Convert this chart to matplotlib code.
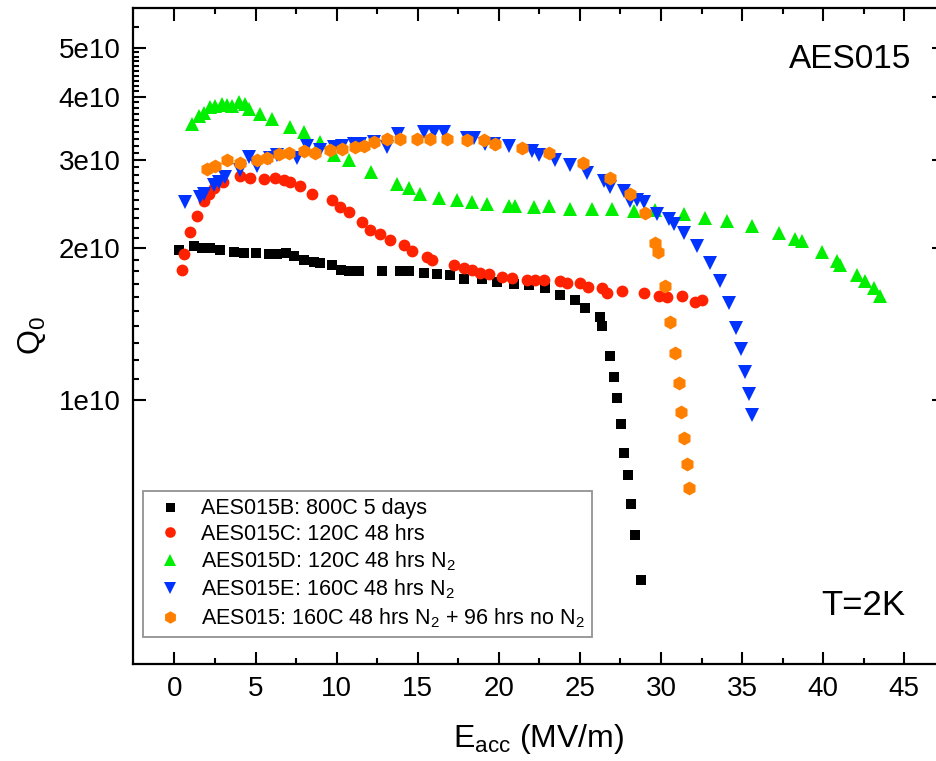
import numpy as np
import matplotlib
matplotlib.use("Agg")
import matplotlib.pyplot as plt
from matplotlib.ticker import FixedLocator, NullFormatter

plt.rcParams['font.family'] = ['Liberation Sans', 'DejaVu Sans']
plt.rcParams['mathtext.fontset'] = 'custom'
plt.rcParams['mathtext.rm'] = 'Liberation Sans'
plt.rcParams['mathtext.it'] = 'Liberation Sans:italic'
plt.rcParams['mathtext.bf'] = 'Liberation Sans:bold'

# Q0 values are in units of 1e10
eb_x = [0.27, 1.19, 1.71, 2.22, 2.84, 3.66, 4.28, 5.0, 5.82, 6.33, 6.85, 7.36, 7.98, 8.59, 9.0,
        9.72, 10.24, 10.75, 11.37, 12.8, 13.93, 14.45, 15.37, 16.2, 17.0, 17.84, 18.97, 19.89,
        20.92, 21.85, 22.87, 23.8, 24.7, 25.34, 26.26, 26.37, 26.84, 27.09, 27.31, 27.54, 27.72,
        27.95, 28.18, 28.4, 28.77]
qb = [1.99, 2.02, 2.00, 2.00, 1.99, 1.97, 1.96, 1.955, 1.95, 1.95, 1.96, 1.93, 1.90, 1.88, 1.87,
      1.85, 1.81, 1.80, 1.80, 1.80, 1.80, 1.80, 1.79, 1.78, 1.77, 1.74, 1.74, 1.715,
      1.70, 1.69, 1.67, 1.62, 1.58, 1.52, 1.46, 1.40, 1.225, 1.11, 1.01, 0.898, 0.787,
      0.711, 0.622, 0.539, 0.439]

ec_x = [0.47, 0.57, 0.99, 1.40, 1.80, 2.12, 2.42, 3.00, 4.07, 4.69, 5.51, 6.23, 6.74, 7.15, 7.77,
        8.49, 9.72, 10.23, 10.75, 11.57, 12.08, 12.70, 13.32, 14.14, 14.65, 15.58, 15.89, 17.22,
        17.84, 18.35, 18.87, 19.38, 20.20, 20.82, 21.74, 22.26, 22.77, 23.80, 24.21, 25.03,
        25.50, 26.37, 26.68, 27.60, 28.94, 29.86, 30.35, 31.30, 32.12, 32.53]
qc = [1.81, 1.95, 2.16, 2.32, 2.48, 2.57, 2.63, 2.71, 2.79, 2.76, 2.75, 2.76, 2.73, 2.71, 2.66,
      2.57, 2.49, 2.42, 2.36, 2.26, 2.18, 2.14, 2.08, 2.03, 1.98, 1.92, 1.90, 1.85,
      1.827, 1.81, 1.79, 1.78, 1.758, 1.745, 1.73, 1.73, 1.73, 1.72, 1.706, 1.706,
      1.68, 1.667, 1.63, 1.65, 1.63, 1.61, 1.60, 1.61, 1.569, 1.58]

ed_x = [1.09, 1.50, 1.81, 2.22, 2.53, 2.94, 3.25, 3.56, 3.97, 4.38, 4.58, 5.30, 6.02, 7.15, 7.97,
        9.00, 9.82, 10.75, 12.10, 13.73, 14.45, 15.17, 16.30, 17.40, 18.35, 19.28, 20.61, 21.02,
        22.15, 23.08, 24.41, 25.75, 26.98, 28.32, 29.66, 31.40, 32.74, 34.07, 35.62, 37.26,
        38.29, 38.70, 39.93, 40.86, 41.06, 42.09, 42.60, 43.12, 43.53]
qd = [3.53, 3.67, 3.72, 3.81, 3.84, 3.87, 3.86, 3.84, 3.90, 3.87, 3.78, 3.70, 3.61, 3.48, 3.40,
      3.25, 3.06, 2.99, 2.84, 2.69, 2.63, 2.57, 2.52, 2.49, 2.47, 2.45, 2.43, 2.43,
      2.42, 2.43, 2.40, 2.40, 2.39, 2.37, 2.38, 2.34, 2.30, 2.27, 2.22, 2.15,
      2.09, 2.07, 1.97, 1.89, 1.85, 1.77, 1.72, 1.67, 1.61]

ee_x = [0.68, 1.60, 1.81, 2.42, 2.73, 3.14, 4.07, 4.58, 5.10, 5.92, 6.33, 7.56, 8.18, 9.00, 9.82,
        10.34, 11.06, 11.47, 12.29, 13.11, 13.80, 15.40, 16.00, 16.65, 18.04, 18.46, 19.17,
        19.69, 20.61, 22.05, 22.46, 23.49, 24.41, 25.44, 26.47, 26.88, 27.70, 28.11, 28.52,
        28.94, 29.76, 30.48, 30.79, 31.40, 32.22, 33.05, 33.66, 34.18, 34.65, 34.96, 35.20,
        35.43, 35.64]
qe = [2.47, 2.53, 2.57, 2.67, 2.71, 2.77, 2.86, 3.04, 2.91, 3.03, 3.06, 3.03, 3.20, 3.13, 3.18,
      3.20, 3.23, 3.23, 3.25, 3.18, 3.38, 3.40, 3.40, 3.40, 3.32, 3.32, 3.23,
      3.22, 3.19, 3.12, 3.07, 3.00, 2.93, 2.82, 2.72, 2.65, 2.60, 2.48, 2.50,
      2.47, 2.34, 2.29, 2.24, 2.15, 2.02, 1.87, 1.72, 1.56, 1.39, 1.264, 1.136,
      1.026, 0.933]

ef_x = [2.01, 2.53, 3.25, 4.07, 5.10, 5.71, 6.43, 7.05, 7.97, 8.69, 9.62, 10.34, 11.16, 11.67,
        12.29, 13.11, 13.93, 14.96, 15.78, 16.81, 18.04, 19.07, 19.79, 21.43, 23.08, 25.20,
        26.88, 28.11, 29.04, 29.66, 29.80, 30.27, 30.58, 30.89, 31.09, 31.26, 31.42, 31.61, 31.73]
qf = [2.88, 2.92, 2.99, 2.96, 3.00, 3.03, 3.08, 3.10, 3.12, 3.10, 3.14, 3.15, 3.18, 3.20,
      3.25, 3.29, 3.30, 3.30, 3.30, 3.30, 3.28, 3.28, 3.23, 3.17, 3.09, 2.95,
      2.76, 2.57, 2.35, 2.05, 1.97, 1.686, 1.43, 1.24, 1.08, 0.947, 0.841, 0.746, 0.67]

labels = ['AES015B: 800C 5 days',
          'AES015C: 120C 48 hrs',
          'AES015D: 120C 48 hrs N$_2$',
          'AES015E: 160C 48 hrs N$_2$',
          'AES015: 160C 48 hrs N$_2$ + 96 hrs no N$_2$']

fig = plt.figure(figsize=(9.37, 7.61), dpi=100)
# right spine sits just past the image edge, as in the original
ax = fig.add_axes([0.142, 0.128, 0.8655, 0.8615])

ax.plot(eb_x, np.array(qb) * 1e10, 's', color='black', ms=7.2, mew=0, label=labels[0])
ax.plot(ec_x, np.array(qc) * 1e10, 'o', color='#ff2200', ms=8.5, mew=0, label=labels[1])
ax.plot(ed_x, np.array(qd) * 1e10, '^', color='#00ee00', ms=10, mew=0, label=labels[2])
ax.plot(ee_x, np.array(qe) * 1e10, 'v', color='#0033ff', ms=10, mew=0, label=labels[3])
ax.plot(ef_x, np.array(qf) * 1e10, 'h', color='#ff8000', ms=10, mew=0, label=labels[4])

ax.set_yscale('log')
ax.set_xlim(-2.55, 47.45)
ax.set_ylim(3e9, 6e10)

ax.set_xticks(np.arange(0, 46, 5))
ax.xaxis.set_minor_locator(FixedLocator(np.arange(2.5, 46, 5)))
ax.yaxis.set_major_locator(FixedLocator([1e10, 2e10, 3e10, 4e10, 5e10]))
ax.set_yticklabels(['1e10', '2e10', '3e10', '4e10', '5e10'])
minor_y = [v * 1e9 for v in range(11, 50) if v % 10 != 0] + [5.5e10]
ax.yaxis.set_minor_locator(FixedLocator(minor_y))
ax.yaxis.set_minor_formatter(NullFormatter())

ax.tick_params(which='both', direction='in', top=True, right=True, width=1.5)
ax.tick_params(which='major', length=9, labelsize=20, pad=9)
ax.tick_params(which='minor', length=4.5)
for s in ax.spines.values():
    s.set_linewidth(1.6)

ax.set_xlabel('E$_{\\mathrm{acc}}$ (MV/m)', fontsize=23, labelpad=14)
ax.set_ylabel('Q$_0$', fontsize=23, labelpad=8)

ax.text(0.96, 0.921, 'AES015', transform=ax.transAxes, fontsize=24,
        ha='right', va='center')
ax.text(0.952, 0.089, 'T=2K', transform=ax.transAxes, fontsize=25,
        ha='right', va='center')

leg = ax.legend(loc='lower left', bbox_to_anchor=(0.0123, 0.04), borderaxespad=0,
                fontsize=15.5, frameon=True, fancybox=False, markerscale=0.9,
                handlelength=1.8, handletextpad=0.55, labelspacing=0.22,
                borderpad=0.35)
leg.get_frame().set_edgecolor('#777777')
leg.get_frame().set_linewidth(1.3)

fig.savefig('out.png', dpi=100)
